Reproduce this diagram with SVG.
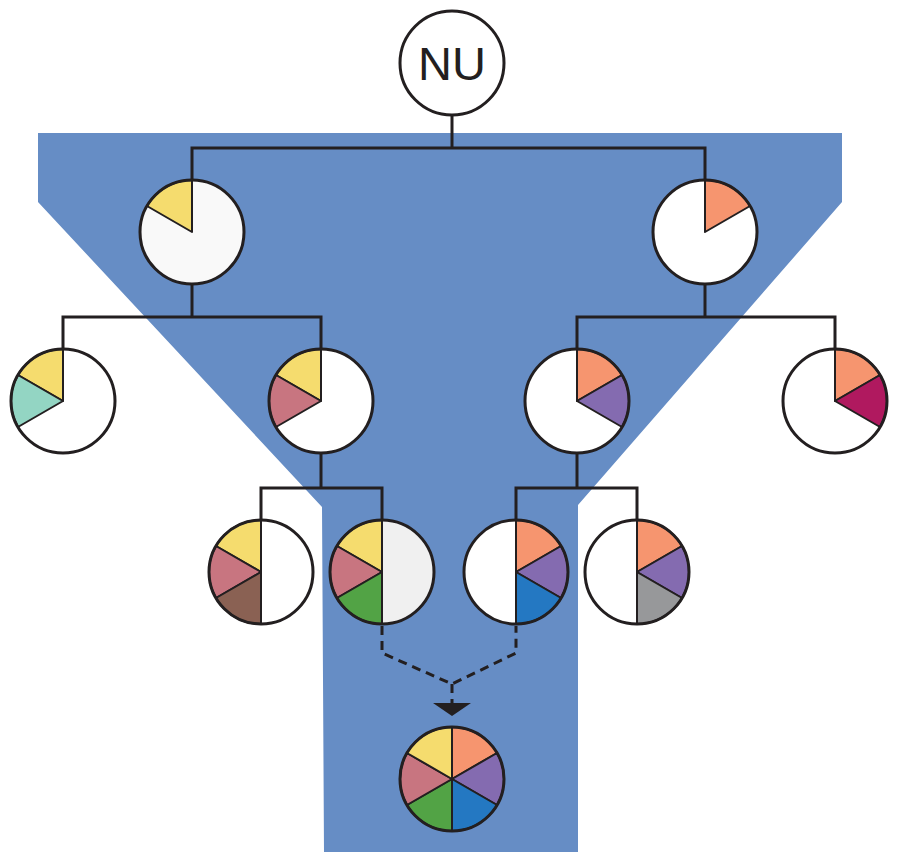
<svg xmlns="http://www.w3.org/2000/svg" xmlns:xlink="http://www.w3.org/1999/xlink" width="900" height="864" viewBox="0 0 900 864">
<style>
.ln{fill:none;stroke:#231F20;stroke-width:3;stroke-linejoin:miter}
.dash{fill:none;stroke:#231F20;stroke-width:3;stroke-dasharray:9 6}
.ring{fill:none;stroke:#231F20;stroke-width:3}
.base{fill:#fff}
.w{stroke:#231F20;stroke-width:2;stroke-linejoin:round}
.yel{fill:#F5DC6E}.sal{fill:#F6956F}.teal{fill:#93D5C3}.pink{fill:#C87580}
.pur{fill:#846BB0}.mag{fill:#B0195F}.brn{fill:#8A6153}.grn{fill:#52A345}
.blu{fill:#2478C2}.gry{fill:#97989A}
.lbl{font-family:"Liberation Sans",Arial,sans-serif;font-size:47px;fill:#231F20;text-anchor:middle}
</style>
<defs>
<path id="w0" d="M0,0 L0,-52 A52,52 0 0 1 45.03,-26 Z"/>
<path id="w1" d="M0,0 L45.03,-26 A52,52 0 0 1 45.03,26 Z"/>
<path id="w2" d="M0,0 L45.03,26 A52,52 0 0 1 0,52 Z"/>
<path id="w3" d="M0,0 L0,52 A52,52 0 0 1 -45.03,26 Z"/>
<path id="w4" d="M0,0 L-45.03,26 A52,52 0 0 1 -45.03,-26 Z"/>
<path id="w5" d="M0,0 L-45.03,-26 A52,52 0 0 1 0,-52 Z"/>
</defs>
<polygon points="38,133 842,133 842,202 578,505 578,852 324,852 322,507 38,202" fill="#668DC5"/>
<g id="connectors">
<polyline class="ln" points="452,115 452,148"/>
<polyline class="ln" points="192,180 192,148 705,148 705,180"/>
<polyline class="ln" points="192,284 192,317"/>
<polyline class="ln" points="63,349 63,317 321,317 321,349"/>
<polyline class="ln" points="705,284 705,317"/>
<polyline class="ln" points="577,349 577,317 835,317 835,349"/>
<polyline class="ln" points="321,453 321,488"/>
<polyline class="ln" points="261,520 261,488 382,488 382,520"/>
<polyline class="ln" points="577,453 577,488"/>
<polyline class="ln" points="516,520 516,488 637,488 637,520"/>
<path class="dash" d="M382,626 V653 L452,684 L516,653 V626"/>
<path class="dash" d="M452,684 V703"/>
<polygon points="433,703 471,703 452,716" fill="#231F20"/>
</g>
<g id="nu">
<circle cx="452" cy="63" r="52" fill="#fff" stroke="#231F20" stroke-width="3"/>
<text class="lbl" x="452" y="80">NU</text>
</g>
<g id="n1a" transform="translate(192,232)">
<circle r="52" fill="#F9F9F9"/>
<use href="#w5" class="w yel"/>
<circle r="52" class="ring"/>
</g>
<g id="n1b" transform="translate(705,232)">
<circle r="52" class="base"/>
<use href="#w0" class="w sal"/>
<circle r="52" class="ring"/>
</g>
<g id="n2a" transform="translate(63,401)">
<circle r="52" class="base"/>
<use href="#w5" class="w yel"/>
<use href="#w4" class="w teal"/>
<circle r="52" class="ring"/>
</g>
<g id="n2b" transform="translate(321,401)">
<circle r="52" class="base"/>
<use href="#w5" class="w yel"/>
<use href="#w4" class="w pink"/>
<circle r="52" class="ring"/>
</g>
<g id="n2c" transform="translate(577,401)">
<circle r="52" class="base"/>
<use href="#w0" class="w sal"/>
<use href="#w1" class="w pur"/>
<circle r="52" class="ring"/>
</g>
<g id="n2d" transform="translate(835,401)">
<circle r="52" class="base"/>
<use href="#w0" class="w sal"/>
<use href="#w1" class="w mag"/>
<circle r="52" class="ring"/>
</g>
<g id="n3a" transform="translate(261,572)">
<circle r="52" class="base"/>
<use href="#w5" class="w yel"/>
<use href="#w4" class="w pink"/>
<use href="#w3" class="w brn"/>
<line x1="0" y1="-52" x2="0" y2="52" stroke="#231F20" stroke-width="2"/>
<circle r="52" class="ring"/>
</g>
<g id="n3b" transform="translate(382,572)">
<circle r="52" fill="#F0F0F0"/>
<use href="#w5" class="w yel"/>
<use href="#w4" class="w pink"/>
<use href="#w3" class="w grn"/>
<line x1="0" y1="-52" x2="0" y2="52" stroke="#231F20" stroke-width="2"/>
<circle r="52" class="ring"/>
</g>
<g id="n3c" transform="translate(516,572)">
<circle r="52" class="base"/>
<use href="#w0" class="w sal"/>
<use href="#w1" class="w pur"/>
<use href="#w2" class="w blu"/>
<line x1="0" y1="-52" x2="0" y2="52" stroke="#231F20" stroke-width="2"/>
<circle r="52" class="ring"/>
</g>
<g id="n3d" transform="translate(637,572)">
<circle r="52" class="base"/>
<use href="#w0" class="w sal"/>
<use href="#w1" class="w pur"/>
<use href="#w2" class="w gry"/>
<line x1="0" y1="-52" x2="0" y2="52" stroke="#231F20" stroke-width="2"/>
<circle r="52" class="ring"/>
</g>
<g id="n4" transform="translate(452,779)">
<use href="#w0" class="w sal"/>
<use href="#w1" class="w pur"/>
<use href="#w2" class="w blu"/>
<use href="#w3" class="w grn"/>
<use href="#w4" class="w pink"/>
<use href="#w5" class="w yel"/>
<circle r="52" class="ring"/>
</g>
</svg>
